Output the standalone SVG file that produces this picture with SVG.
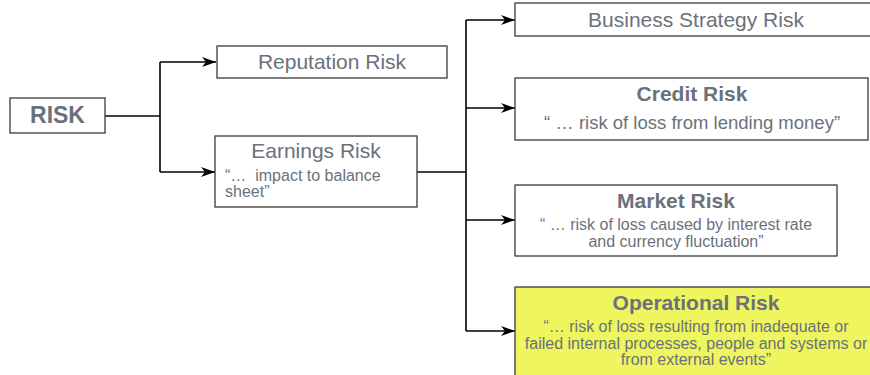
<svg xmlns="http://www.w3.org/2000/svg" width="870" height="375" viewBox="0 0 870 375">
<defs>
<style>
.box{fill:#fff;stroke:#3a3a3a;stroke-width:1.3}
.hl{fill:#eef55f;stroke:#3a3a3a;stroke-width:1.3}
.t{font-family:"Liberation Sans",Arial,sans-serif;fill:#6b717a}
.h{font-size:21px}
.b{font-weight:bold}
.s{font-size:16px}
.c{text-anchor:middle}
.ln{fill:none;stroke:#000;stroke-width:1.6}
</style>
<marker id="ar" viewBox="0 0 14 10" refX="14" refY="5" markerWidth="14" markerHeight="10" markerUnits="userSpaceOnUse" orient="auto">
<path d="M0,0 L14,5 L0,10 L4,5 Z" fill="#000"/>
</marker>
</defs>
<rect width="870" height="375" fill="#fff"/>
<g id="connectors">
<path class="ln" d="M105,116 H160"/>
<path class="ln" d="M160,62 V172"/>
<path class="ln" d="M160,62 H216" marker-end="url(#ar)"/>
<path class="ln" d="M160,172 H215" marker-end="url(#ar)"/>
<path class="ln" d="M417,172 H466"/>
<path class="ln" d="M466,20 V331"/>
<path class="ln" d="M466,20 H515" marker-end="url(#ar)"/>
<path class="ln" d="M466,108 H515" marker-end="url(#ar)"/>
<path class="ln" d="M466,220 H515" marker-end="url(#ar)"/>
<path class="ln" d="M466,331 H515" marker-end="url(#ar)"/>
</g>
<g id="risk">
<rect class="box" x="10" y="98" width="95" height="35"/>
<text class="t b c" x="57.5" y="123" font-size="23">RISK</text>
</g>
<g id="reputation">
<rect class="box" x="217" y="46" width="230" height="32"/>
<text class="t h c" x="332" y="69">Reputation Risk</text>
</g>
<g id="earnings">
<rect class="box" x="215" y="136" width="202" height="71"/>
<text class="t h c" x="316" y="158">Earnings Risk</text>
<text class="t s" x="225" y="181">“… &#160;impact to balance</text>
<text class="t s" x="225" y="197">sheet”</text>
</g>
<g id="business">
<rect class="box" x="515" y="3" width="362" height="33"/>
<text class="t h c" x="696" y="27">Business Strategy Risk</text>
</g>
<g id="credit">
<rect class="box" x="515" y="78" width="353" height="62"/>
<text class="t h b c" x="692" y="101">Credit Risk</text>
<text class="t c" x="692" y="128.5" font-size="18.5">“ … risk of loss from lending money”</text>
</g>
<g id="market">
<rect class="box" x="515" y="185" width="322" height="71"/>
<text class="t h b c" x="676" y="208">Market Risk</text>
<text class="t s c" x="676" y="230">“ … risk of loss caused by interest rate</text>
<text class="t s c" x="676" y="247">and currency fluctuation”</text>
</g>
<g id="operational">
<rect class="hl" x="515" y="287" width="362" height="100"/>
<text class="t h b c" x="696" y="309.5">Operational Risk</text>
<text class="t s c" x="696" y="332">“… risk of loss resulting from inadequate or</text>
<text class="t s c" x="696" y="348.5">failed internal processes, people and systems or</text>
<text class="t s c" x="696" y="365">from external events”</text>
</g>
</svg>
